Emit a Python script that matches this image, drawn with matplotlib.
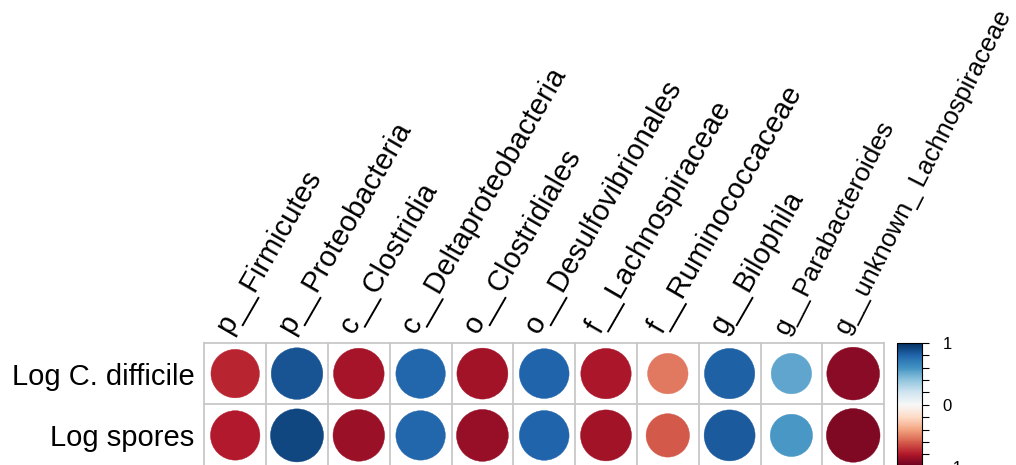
import numpy as np
import matplotlib.pyplot as plt
from matplotlib.patches import Circle
from matplotlib import cm, colors
import matplotlib.transforms as mtransforms

plt.rcParams['font.family'] = ['Liberation Sans', 'DejaVu Sans']

# столбцы (таксоны) и строки (показатели)
taxa = ['p__Firmicutes', 'p__Proteobacteria', 'c__Clostridia', 'c__Deltaproteobacteria',
        'o__Clostridiales', 'o__Desulfovibrionales', 'f__Lachnospiraceae',
        'f__Ruminococcaceae', 'g__Bilophila', 'g__Parabacteroides',
        'g__unknown_ Lachnospiraceae']
rows = ['Log C. difficile', 'Log spores']

# коэффициенты корреляции (оценка по картинке)
r_cdiff = [-0.76, 0.86, -0.83, 0.79, -0.84, 0.80, -0.82, -0.53, 0.82, 0.53, -0.90]
r_spores = [-0.79, 0.91, -0.86, 0.79, -0.87, 0.80, -0.84, -0.61, 0.84, 0.58, -0.93]

# размеры шрифта подписей столбцов (последние две мельче)
label_fs = [21] * 9 + [19, 18.3]
label_rot = [60] * 9 + [63, 63]

W, H = 1016, 465
fig = plt.figure(figsize=(W / 100, H / 100), dpi=100)

cell = 679.8 / 11
ax_h = 2 * cell
ax = fig.add_axes([204.3 / W, (H - 342.7 - ax_h) / H, 679.8 / W, ax_h / H])
ax.set_xlim(0, len(taxa))
ax.set_ylim(0, len(rows))

cmap = plt.get_cmap('RdBu')
norm = colors.Normalize(-1, 1)

data = np.array([r_cdiff, r_spores])
for i in range(len(rows)):
    yc = len(rows) - i - 0.5
    for j in range(len(taxa)):
        r = data[i, j]
        c = cmap(norm(r))
        ax.add_patch(Circle((j + 0.5, yc), 0.45 * np.sqrt(abs(r)),
                            facecolor=c, edgecolor=c, lw=0.3))

# сетка
grid_c = '#C8C8C8'
for x in range(len(taxa) + 1):
    ax.axvline(x, color=grid_c, lw=1.3, clip_on=False)
for y in range(len(rows) + 1):
    ax.axhline(y, color=grid_c, lw=1.3, clip_on=False)
for s in ax.spines.values():
    s.set_visible(False)

ax.set_xticks([])
ax.set_yticks([len(rows) - i - 0.5 for i in range(len(rows))], rows, fontsize=21)
ax.tick_params(axis='y', length=0, pad=7)

# подписи столбцов под углом
off = mtransforms.offset_copy(ax.transData, fig=fig, x=0, y=5, units='dots')
for j, lbl in enumerate(taxa):
    ax.text(j + 0.5, len(rows), lbl, transform=off, rotation=label_rot[j],
            rotation_mode='anchor', ha='left', va='bottom',
            fontsize=label_fs[j], clip_on=False)

# цветовая шкала
cax = fig.add_axes([897 / W, (H - 343 - ax_h) / H, 25 / W, ax_h / H])
sm = cm.ScalarMappable(norm=norm, cmap=cmap)
cb = fig.colorbar(sm, cax=cax)
ticks = np.linspace(-1, 1, 11)
cb.set_ticks(ticks)
cb.set_ticklabels(['\u22121' if t == -1 else ('0' if abs(t) < 1e-9 else ('1' if t == 1 else ''))
                   for t in ticks])
cax.tick_params(length=5, width=0.8, pad=10, labelsize=12)
cb.outline.set_linewidth(0.8)

fig.savefig('out.png', dpi=100)
